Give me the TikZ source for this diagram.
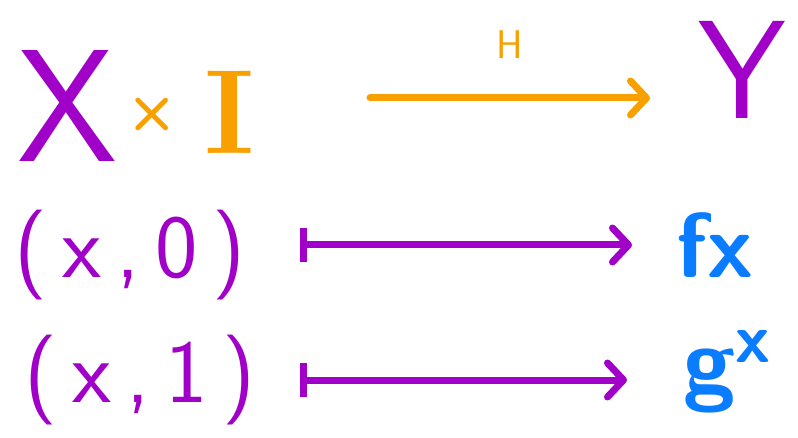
\documentclass[tikz,border=0pt]{standalone}
\usetikzlibrary{arrows.meta}
\definecolor{hpurple}{HTML}{A000C8}
\definecolor{horange}{HTML}{F7A000}
\definecolor{hblue}{HTML}{0A7CFF}
\begin{document}
\begin{tikzpicture}[x=1pt,y=-1pt,
  lbl/.style={inner sep=0pt},
  tip/.style={-{Straight Barb[round,length=16pt,width=34pt,line width=7pt]}},
  conn/.style={line width=7pt,line cap=round}]
\useasboundingbox (0,0) rectangle (798,438);
\node[lbl,text=hpurple,font=\sffamily\fontsize{160}{160}\selectfont] (X) at (67,106) {X};
\node[lbl,text=horange,font=\sffamily\bfseries\fontsize{60}{60}\selectfont] (times) at (152,114) {×};
\node[lbl,text=horange,font=\rmfamily\bfseries\fontsize{120}{120}\selectfont] (I) at (230,112) {I};
\node[lbl,text=hpurple,font=\sffamily\fontsize{140}{140}\selectfont] (Y) at (742,70) {Y};
\coordinate (Hs) at (370,98);
\coordinate (He) at (650,98);
\draw[conn,tip,horange] (Hs) -- (He);
\node[lbl,text=horange,font=\sffamily\fontsize{40}{40}\selectfont] (H) at (510,45) {H};
\node[lbl,text=hpurple,font=\sffamily\fontsize{90}{90}\selectfont] (a0) at (130,255) {(\,x\,,\,0\,)};
\node[lbl,text=hblue,font=\sffamily\bfseries\fontsize{92}{92}\selectfont] (fx) at (715,245) {fx};
\node[lbl,text=hpurple,font=\sffamily\fontsize{90}{90}\selectfont] (a1) at (140,380) {(\,x\,,\,1\,)};
\node[lbl,text=hblue,font=\sffamily\bfseries\fontsize{95}{95}\selectfont] (gx) at (727,372) {g\raisebox{0.33em}{\fontsize{70}{70}\selectfont x}};
\coordinate (m0s) at (300,245);
\coordinate (m0e) at (632,245);
\coordinate (m1s) at (300,380);
\coordinate (m1e) at (627,380);
\draw[conn,hpurple,{Bar[width=34pt,line width=7pt]}-{Straight Barb[round,length=16pt,width=34pt,line width=7pt]}] (m0s) -- (m0e);
\draw[conn,hpurple,{Bar[width=34pt,line width=7pt]}-{Straight Barb[round,length=16pt,width=34pt,line width=7pt]}] (m1s) -- (m1e);
\end{tikzpicture}
\end{document}
